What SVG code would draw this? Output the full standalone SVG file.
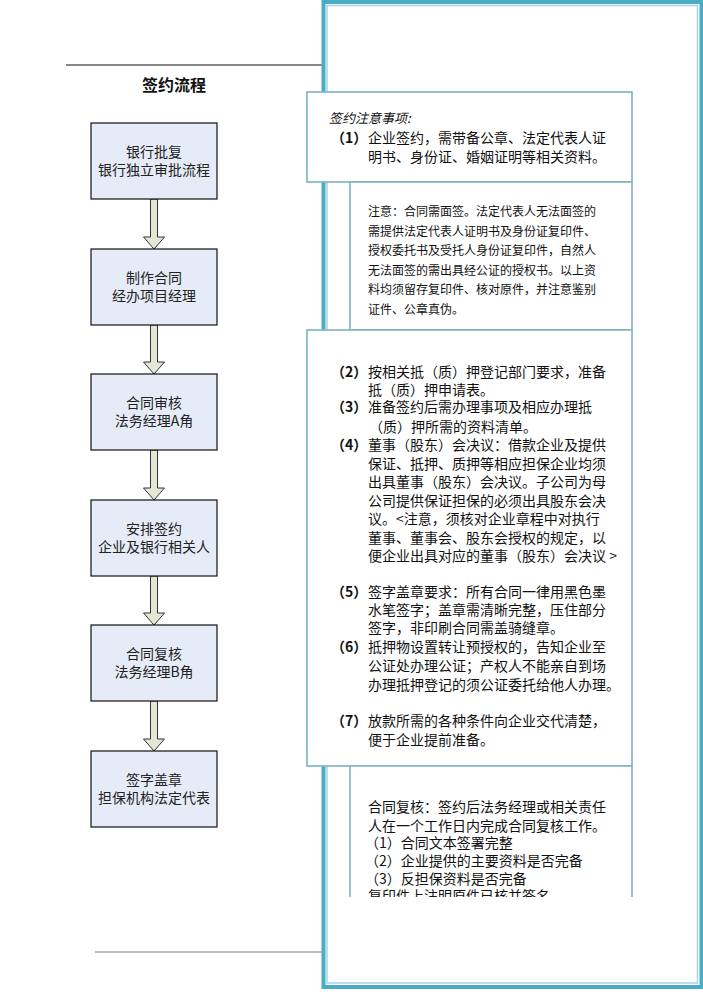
<svg xmlns="http://www.w3.org/2000/svg" width="703" height="994" viewBox="0 0 703 994">
<style>
text{font-family:"Noto Sans CJK SC","Liberation Sans",sans-serif;fill:#111}
.fb{fill:#e6ecf7;stroke:#111;stroke-width:1.2}
.ft{font-size:14px;text-anchor:middle;fill:#222}
.ar{fill:#e3e7d3;stroke:#333;stroke-width:1}
.tb{fill:#fff;stroke:#7fb2c2;stroke-width:1.6}
.t14{font-size:14px}
.t12{font-size:12px}
.num{font-size:14px;font-weight:600}
</style>
<defs>
<clipPath id="clipD"><rect x="340" y="766" width="300" height="131"/></clipPath>
</defs>
<rect width="703" height="994" fill="#fff"/>
<g id="top-rule"><line x1="66" y1="65" x2="323" y2="65" stroke="#111" stroke-width="1.2"/></g>
<g id="bottom-rule"><line x1="95" y1="952" x2="322" y2="952" stroke="#bdbdbd" stroke-width="2"/></g>
<g id="title"><text x="174" y="91" style="font-size:16px;font-weight:bold;text-anchor:middle">签约流程</text></g>

<g id="panel">
<rect x="323.5" y="2" width="378" height="985" fill="#fff" stroke="#4bacc6" stroke-width="4"/>
<rect x="327" y="5.5" width="370.5" height="977.5" fill="none" stroke="#a5d5e2" stroke-width="1.5"/>
</g>

<g id="connectors">
<polygon class="ar" points="150.5,199 157.5,199 157.5,237 164.5,237 154,249 143.5,237 150.5,237"/>
<polygon class="ar" points="150.5,325 157.5,325 157.5,362 164.5,362 154,374 143.5,362 150.5,362"/>
<polygon class="ar" points="150.5,450 157.5,450 157.5,488 164.5,488 154,500 143.5,488 150.5,488"/>
<polygon class="ar" points="150.5,576 157.5,576 157.5,613 164.5,613 154,625 143.5,613 150.5,613"/>
<polygon class="ar" points="150.5,701 157.5,701 157.5,739 164.5,739 154,751 143.5,739 150.5,739"/>
</g>

<g id="step1"><rect class="fb" x="91" y="123" width="126" height="76"/><text class="ft" x="154" y="157">银行批复</text><text class="ft" x="154" y="175">银行独立审批流程</text></g>
<g id="step2"><rect class="fb" x="91" y="249" width="126" height="76"/><text class="ft" x="154" y="283">制作合同</text><text class="ft" x="154" y="301">经办项目经理</text></g>
<g id="step3"><rect class="fb" x="91" y="374" width="126" height="76"/><text class="ft" x="154" y="408">合同审核</text><text class="ft" x="154" y="426">法务经理A角</text></g>
<g id="step4"><rect class="fb" x="91" y="500" width="126" height="76"/><text class="ft" x="154" y="534">安排签约</text><text class="ft" x="154" y="552">企业及银行相关人</text></g>
<g id="step5"><rect class="fb" x="91" y="625" width="126" height="76"/><text class="ft" x="154" y="659">合同复核</text><text class="ft" x="154" y="677">法务经理B角</text></g>
<g id="step6"><rect class="fb" x="91" y="751" width="126" height="76"/><text class="ft" x="154" y="785">签字盖章</text><text class="ft" x="154" y="803">担保机构法定代表</text></g>

<g id="noteA">
<rect class="tb" x="307" y="92" width="325" height="90"/>
<text x="329" y="123" style="font-size:13px;font-style:italic">签约注意事项:</text>
<text class="num" x="331" y="143">（1）</text>
<text class="t14" x="368" y="143">企业签约，需带备公章、法定代表人证</text>
<text class="t14" x="368" y="162">明书、身份证、婚姻证明等相关资料。</text>
</g>

<g id="noteB">
<rect class="tb" x="350" y="182" width="282" height="148"/>
<text class="t12" x="368" y="216">注意：合同需面签。法定代表人无法面签的</text>
<text class="t12" x="368" y="235.5">需提供法定代表人证明书及身份证复印件、</text>
<text class="t12" x="368" y="255">授权委托书及受托人身份证复印件，自然人</text>
<text class="t12" x="368" y="274.5">无法面签的需出具经公证的授权书。以上资</text>
<text class="t12" x="368" y="294">料均须留存复印件、核对原件，并注意鉴别</text>
<text class="t12" x="368" y="313.5">证件、公章真伪。</text>
</g>

<g id="noteC">
<rect class="tb" x="307" y="330" width="325" height="436"/>
<text class="num" x="331" y="377">（2）</text>
<text class="t14" x="368" y="377">按相关抵（质）押登记部门要求，准备</text>
<text class="t14" x="368" y="395">抵（质）押申请表。</text>
<text class="num" x="331" y="412">（3）</text>
<text class="t14" x="368" y="412">准备签约后需办理事项及相应办理抵</text>
<text class="t14" x="369" y="432">（质）押所需的资料清单。</text>
<text class="num" x="331" y="450">（4）</text>
<text class="t14" x="368" y="450">董事（股东）会决议：借款企业及提供</text>
<text class="t14" x="368" y="469">保证、抵押、质押等相应担保企业均须</text>
<text class="t14" x="368" y="487">出具董事（股东）会决议。子公司为母</text>
<text class="t14" x="368" y="506">公司提供保证担保的必须出具股东会决</text>
<text class="t14" x="368" y="524">议。&lt;注意，须核对企业章程中对执行</text>
<text class="t14" x="368" y="543">董事、董事会、股东会授权的规定，以</text>
<text class="t14" x="368" y="561">便企业出具对应的董事（股东）会决议 &gt;</text>
<text class="num" x="331" y="597">（5）</text>
<text class="t14" x="368" y="597">签字盖章要求：所有合同一律用黑色墨</text>
<text class="t14" x="368" y="615">水笔签字；盖章需清晰完整，压住部分</text>
<text class="t14" x="368" y="633">签字，非印刷合同需盖骑缝章。</text>
<text class="num" x="331" y="652">（6）</text>
<text class="t14" x="368" y="652">抵押物设置转让预授权的，告知企业至</text>
<text class="t14" x="368" y="671">公证处办理公证；产权人不能亲自到场</text>
<text class="t14" x="368" y="690">办理抵押登记的须公证委托给他人办理。</text>
<text class="num" x="331" y="726">（7）</text>
<text class="t14" x="368" y="726">放款所需的各种条件向企业交代清楚，</text>
<text class="t14" x="368" y="745">便于企业提前准备。</text>
</g>

<g id="noteD">
<rect x="350" y="766" width="282" height="140" fill="#fff"/>
<line x1="350" y1="766" x2="350" y2="897" stroke="#7fb2c2" stroke-width="1.6"/>
<line x1="632" y1="766" x2="632" y2="897" stroke="#7fb2c2" stroke-width="1.6"/>
<line x1="350" y1="766" x2="632" y2="766" stroke="#7fb2c2" stroke-width="1.6"/>
<g clip-path="url(#clipD)">
<text class="t14" x="368" y="812">合同复核：签约后法务经理或相关责任</text>
<text class="t14" x="368" y="831">人在一个工作日内完成合同复核工作。</text>
<text class="t14" x="365" y="848">（1）合同文本签署完整</text>
<text class="t14" x="365" y="866">（2）企业提供的主要资料是否完备</text>
<text class="t14" x="365" y="884">（3）反担保资料是否完备</text>
<text class="t14" x="368" y="901">复印件上注明原件已核并签名</text>
</g>
</g>
</svg>
